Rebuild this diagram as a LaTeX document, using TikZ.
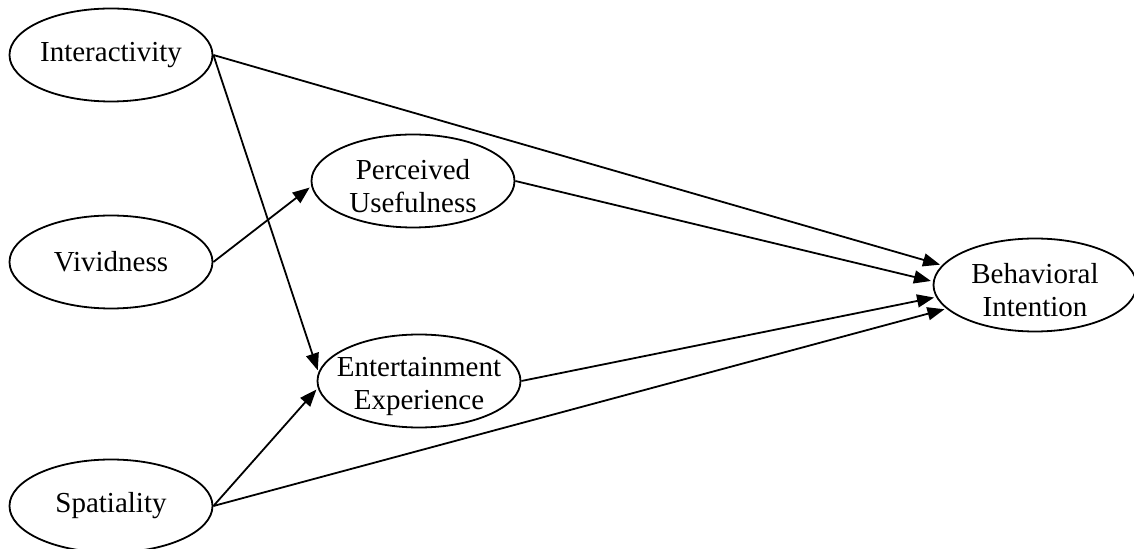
\documentclass[tikz,border=0pt]{standalone}
\usepackage{fontspec}
\setmainfont{Liberation Serif}
\usetikzlibrary{arrows.meta,shapes.geometric}

\begin{document}
\begin{tikzpicture}[
        x=0.5pt, y=-0.5pt,
        construct/.style={draw, ellipse, line width=0.9pt, minimum width=101.5pt, minimum height=46.5pt, inner sep=0pt},
        txt/.style={align=center, font=\fontsize{14.5}{16.5}\selectfont, inner sep=0pt},
        twoline/.style={txt, yshift=-2.5pt},
        arrow/.style={-{Triangle[length=8.5pt, width=6.5pt]}, line width=0.9pt, shorten >=1pt}
    ]
        \useasboundingbox (0,0) rectangle (1134,549);
        \node[construct, label={[txt]center:Interactivity}] (inter) at (111,55) {};
        \node[construct, label={[txt]center:Vividness}] (vivid) at (111,262) {};
        \node[construct, label={[txt]center:Spatiality}] (spat) at (111,506) {};
        \node[construct, label={[twoline]center:{Perceived\\Usefulness}}] (pu) at (413,181) {};
        \node[construct, label={[twoline]center:{Entertainment\\Experience}}] (ee) at (419,381) {};
        \node[construct, label={[twoline]center:{Behavioral\\Intention}}] (bi) at (1035,285) {};

        \draw[arrow] (inter.east) -- (bi.168);
        \draw[arrow] (inter.east) -- (ee.175);
        \draw[arrow] (vivid.east) -- (pu.183);
        \draw[arrow] (pu.east) -- (bi.178);
        \draw[arrow] (ee.east) -- (bi.187);
        \draw[arrow] (spat.east) -- (ee.184);
        \draw[arrow] (spat.east) -- (bi.195);
    \end{tikzpicture}
\end{document}
